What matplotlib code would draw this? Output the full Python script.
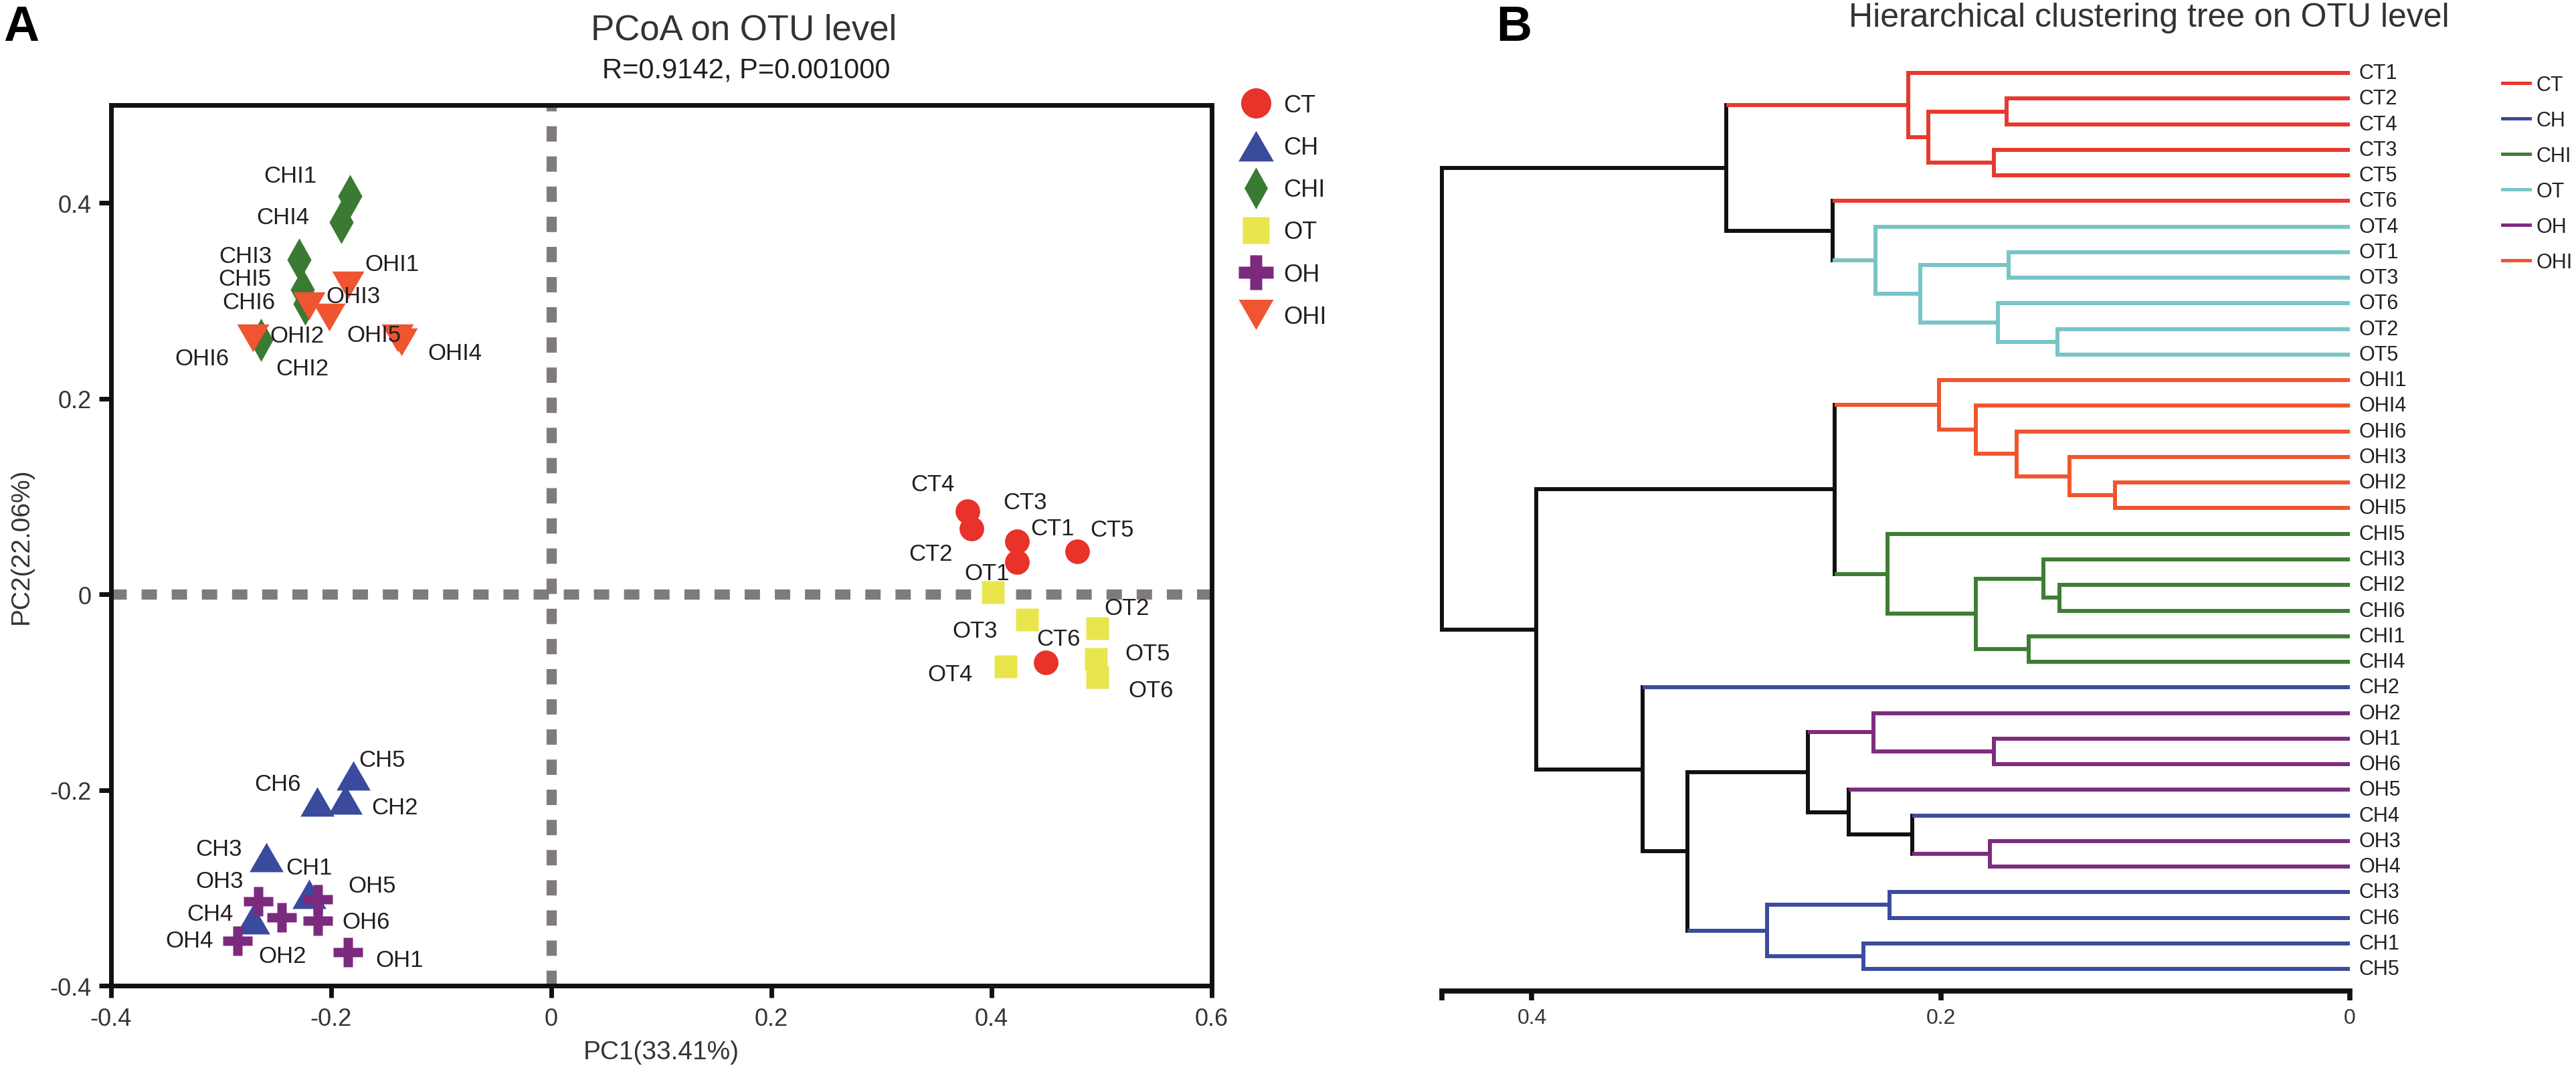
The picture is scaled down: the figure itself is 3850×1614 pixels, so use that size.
import numpy as np
import matplotlib.pyplot as plt
from matplotlib.lines import Line2D

plt.rcParams["font.family"] = ["Liberation Sans", "DejaVu Sans"]
plt.rcParams["text.color"] = "#231F20"


# ========== 1. PCoA 數據 ==========
groups = ["CT", "CH", "CHI", "OT", "OH", "OHI"]

ct_x = [0.423, 0.382, 0.423, 0.378, 0.478, 0.449]
ct_y = [0.033, 0.067, 0.054, 0.085, 0.044, -0.070]
ch_x = [-0.220, -0.187, -0.259, -0.271, -0.180, -0.213]
ch_y = [-0.306, -0.210, -0.269, -0.332, -0.185, -0.212]
chi_x = [-0.183, -0.264, -0.229, -0.191, -0.226, -0.224]
chi_y = [0.407, 0.260, 0.342, 0.380, 0.311, 0.297]
ot_x = [0.401, 0.496, 0.432, 0.413, 0.495, 0.496]
ot_y = [0.002, -0.035, -0.026, -0.074, -0.066, -0.085]
oh_x = [-0.185, -0.245, -0.266, -0.285, -0.212, -0.212]
oh_y = [-0.366, -0.330, -0.314, -0.354, -0.312, -0.334]
ohi_x = [-0.185, -0.220, -0.202, -0.136, -0.140, -0.271]
ohi_y = [0.316, 0.295, 0.283, 0.258, 0.262, 0.262]

pc1_label = "PC1(33.41%)"
pc2_label = "PC2(22.06%)"
stat_text = "R=0.9142, P=0.001000"

# 標籤位置偏移 (points)
label_offsets = {
    "CT1": (38, 36), "CT2": (-44, -27), "CT3": (9, 42), "CT4": (-37, 29), "CT5": (37, 23), "CT6": (14, 26),
    "CH1": (0, 28), "CH2": (53, -8), "CH3": (-51, 9), "CH4": (-46, 6), "CH5": (31, 17), "CH6": (-42, 19),
    "CHI1": (-64, 22), "CHI2": (45, -31), "CHI3": (-58, 4), "CHI4": (-63, 6), "CHI5": (-62, 12), "CHI6": (-60, 2),
    "OT1": (-6, 21), "OT2": (32, 22), "OT3": (-56, -12), "OT4": (-60, -8), "OT5": (55, 6), "OT6": (58, -14),
    "OH1": (56, -8), "OH2": (1, -42), "OH3": (-42, 22), "OH4": (-52, 0), "OH5": (58, 15), "OH6": (52, -1),
    "OHI1": (48, 23), "OHI2": (-13, -32), "OHI3": (26, 23), "OHI4": (57, -12), "OHI5": (-25, 3), "OHI6": (-55, -22),
}


# ========== 2. 聚類樹數據 ==========
leaf_order = [
    "CT1", "CT2", "CT4", "CT3", "CT5", "CT6",
    "OT4", "OT1", "OT3", "OT6", "OT2", "OT5",
    "OHI1", "OHI4", "OHI6", "OHI3", "OHI2", "OHI5",
    "CHI5", "CHI3", "CHI2", "CHI6", "CHI1", "CHI4",
    "CH2", "OH2", "OH1", "OH6", "OH5", "CH4",
    "OH3", "OH4", "CH3", "CH6", "CH1", "CH5",
]

# (左, 右, 高度)  整數 = 之前的合併編號
merges = [
    ("CT2", "CT4", 0.168),   # 0
    ("CT3", "CT5", 0.174),   # 1
    (0, 1, 0.206),           # 2
    ("CT1", 2, 0.216),       # 3
    ("OT1", "OT3", 0.167),   # 4
    ("OT2", "OT5", 0.143),   # 5
    ("OT6", 5, 0.172),       # 6
    (4, 6, 0.210),           # 7
    ("OT4", 7, 0.232),       # 8
    ("CT6", 8, 0.253),       # 9
    (3, 9, 0.305),           # 10
    ("OHI2", "OHI5", 0.115), # 11
    ("OHI3", 11, 0.137),     # 12
    ("OHI6", 12, 0.163),     # 13
    ("OHI4", 13, 0.183),     # 14
    ("OHI1", 14, 0.201),     # 15
    ("CHI2", "CHI6", 0.142), # 16
    ("CHI3", 16, 0.150),     # 17
    ("CHI1", "CHI4", 0.157), # 18
    (17, 18, 0.183),         # 19
    ("CHI5", 19, 0.226),     # 20
    (15, 20, 0.252),         # 21
    ("OH1", "OH6", 0.174),   # 22
    ("OH2", 22, 0.233),      # 23
    ("OH3", "OH4", 0.176),   # 24
    ("CH4", 24, 0.214),      # 25
    ("OH5", 25, 0.245),      # 26
    (23, 26, 0.265),         # 27
    ("CH3", "CH6", 0.225),   # 28
    ("CH1", "CH5", 0.238),   # 29
    (28, 29, 0.285),         # 30
    (27, 30, 0.324),         # 31
    ("CH2", 31, 0.346),      # 32
    (21, 32, 0.398),         # 33
    (10, 33, 0.444),         # 34
]
tree_ticks = [0.444, 0.4, 0.2, 0]
tree_ticklabels = ["", "0.4", "0.2", "0"]


# ========== 3. 樣式 ==========
scatter_colors = {"CT": "#E8322A", "CH": "#3A4A9C", "CHI": "#3B7A33",
                  "OT": "#E8E64C", "OH": "#7B2A7E", "OHI": "#EE5530"}
tree_colors = {"CT": "#E8392E", "CH": "#3C4B9E", "CHI": "#3F7D35",
               "OT": "#78C5C6", "OH": "#7D2C7E", "OHI": "#F0552E"}

tri_up = [(0, 0.433), (-0.5, -0.433), (0.5, -0.433)]
tri_down = [(0, -0.433), (-0.5, 0.433), (0.5, 0.433)]
diamond = [(0, 0.5), (-0.28, 0), (0, -0.5), (0.28, 0)]
markers = {"CT": "o", "CH": tri_up, "CHI": diamond, "OT": "s", "OH": "P", "OHI": tri_down}
msizes = {"CT": 26.5, "CH": 36.5, "CHI": 46.5, "OT": 24.5, "OH": 31.5, "OHI": 34.5}
leg_msizes = {"CT": 32.5, "CH": 38, "CHI": 45, "OT": 29, "OH": 38, "OHI": 37.5}

xs = {"CT": ct_x, "CH": ch_x, "CHI": chi_x, "OT": ot_x, "OH": oh_x, "OHI": ohi_x}
ys = {"CT": ct_y, "CH": ch_y, "CHI": chi_y, "OT": ot_y, "OH": oh_y, "OHI": ohi_y}

W, H = 3850, 1615
fig = plt.figure(figsize=(W / 100, H / 100), dpi=100)


# ========== 4. 圖 A: PCoA ==========
ax = fig.add_axes([166 / W, 1 - 1474 / H, (1811 - 166) / W, (1474 - 158) / H])
ax.set_xlim(-0.4, 0.6)
ax.set_ylim(-0.4, 0.5)

ax.axhline(0, color="#807B7B", lw=11, ls=(0, (1.5, 1.45)), dash_capstyle="butt", zorder=1)
ax.axvline(0, color="#807B7B", lw=11, ls=(0, (1.5, 1.45)), dash_capstyle="butt", zorder=1)

for g in groups:
    ax.plot(xs[g], ys[g], ls="none", marker=markers[g], ms=msizes[g],
            color=scatter_colors[g], mec="none", zorder=3)
    for i, (px, py) in enumerate(zip(xs[g], ys[g])):
        name = g + str(i + 1)
        ax.annotate(name, (px, py), xytext=label_offsets[name], textcoords="offset points",
                    ha="center", va="center", fontsize=25, color="#231F20", zorder=4)

for s in ax.spines.values():
    s.set_linewidth(5)
    s.set_color("#111111")
ax.set_xticks([-0.4, -0.2, 0, 0.2, 0.4, 0.6])
ax.set_xticklabels(["-0.4", "-0.2", "0", "0.2", "0.4", "0.6"])
ax.set_yticks([-0.4, -0.2, 0, 0.2, 0.4])
ax.set_yticklabels(["-0.4", "-0.2", "0", "0.2", "0.4"])
ax.tick_params(axis="both", direction="out", length=13, width=5, color="#111111",
               labelsize=26, labelcolor="#333333")
ax.tick_params(axis="x", pad=10)
ax.tick_params(axis="y", pad=8)
ax.set_xlabel(pc1_label, fontsize=28, color="#333333", labelpad=10)
ax.set_ylabel(pc2_label, fontsize=28, color="#333333", labelpad=18)

fig.text(1112 / W, 1 - 60 / H, "PCoA on OTU level", fontsize=38, ha="center", va="baseline", color="#333333")
fig.text(1115 / W, 1 - 117 / H, stat_text, fontsize=30, ha="center", va="baseline", color="#231F20")
fig.text(5 / W, 1 - 61 / H, "A", fontsize=53, fontweight="bold", ha="left", va="baseline", color="black")

handles_a = [Line2D([], [], ls="none", marker=markers[g], ms=leg_msizes[g],
                    color=scatter_colors[g], mec="none") for g in groups]
fig.legend(handles_a, groups, loc="upper left", bbox_to_anchor=(1859 / W, 1 - 141 / H),
           frameon=False, fontsize=26, handlelength=1.0, handletextpad=0.64,
           labelspacing=0.78, borderpad=0, borderaxespad=0)


# ========== 5. 圖 B: 聚類樹 ==========
axb = fig.add_axes([2155 / W, 1 - 1482 / H, (3512 - 2155) / W, (1482 - 91) / H])
axb.set_xlim(0.444, 0)
axb.set_ylim(35.86, -0.5)

node_y, node_h, node_leaves = {}, {}, {}
for i, name in enumerate(leaf_order):
    node_y[name] = i
    node_h[name] = 0.0
    node_leaves[name] = [name]
for k, (a, b, h) in enumerate(merges):
    node_y[k] = (node_y[a] + node_y[b]) / 2
    node_h[k] = h
    node_leaves[k] = node_leaves[a] + node_leaves[b]


def node_color(node):
    gs = {leaf.rstrip("0123456789") for leaf in node_leaves[node]}
    return tree_colors[gs.pop()] if len(gs) == 1 else "#111111"


lw_tree = 4.3
for k, (a, b, h) in enumerate(merges):
    axb.plot([h, h], [node_y[a], node_y[b]], color=node_color(k), lw=lw_tree,
             solid_capstyle="projecting", clip_on=False, zorder=2)
    for c in (a, b):
        axb.plot([h, node_h[c]], [node_y[c], node_y[c]], color=node_color(c), lw=lw_tree,
                 solid_capstyle="butt", clip_on=False, zorder=3)

for i, name in enumerate(leaf_order):
    axb.annotate(name, (0, i), xytext=(10, 0), textcoords="offset points",
                 ha="left", va="center", fontsize=22, color="#231F20")

for side in ["top", "right", "left"]:
    axb.spines[side].set_visible(False)
axb.spines["bottom"].set_linewidth(5.5)
axb.spines["bottom"].set_color("#111111")
axb.set_yticks([])
axb.set_xticks(tree_ticks)
axb.set_xticklabels(tree_ticklabels)
axb.tick_params(axis="x", direction="out", length=10, width=5.5, color="#111111",
                labelsize=23, labelcolor="#333333", pad=8)

fig.text(3661 / W, 1 - 40 / H, "Hierarchical clustering tree on OTU level", fontsize=36,
         ha="right", va="baseline", color="#333333")
fig.text(2236 / W, 1 - 61 / H, "B", fontsize=53, fontweight="bold", ha="left", va="baseline", color="black")

handles_b = [Line2D([], [], color=tree_colors[g], lw=3.6) for g in groups]
fig.legend(handles_b, groups, loc="upper left", bbox_to_anchor=(3740 / W, 1 - 113 / H),
           frameon=False, fontsize=22, handlelength=1.34, handletextpad=0.3,
           labelspacing=0.75, borderpad=0, borderaxespad=0)

fig.savefig("out.png", dpi=100, facecolor="white")
